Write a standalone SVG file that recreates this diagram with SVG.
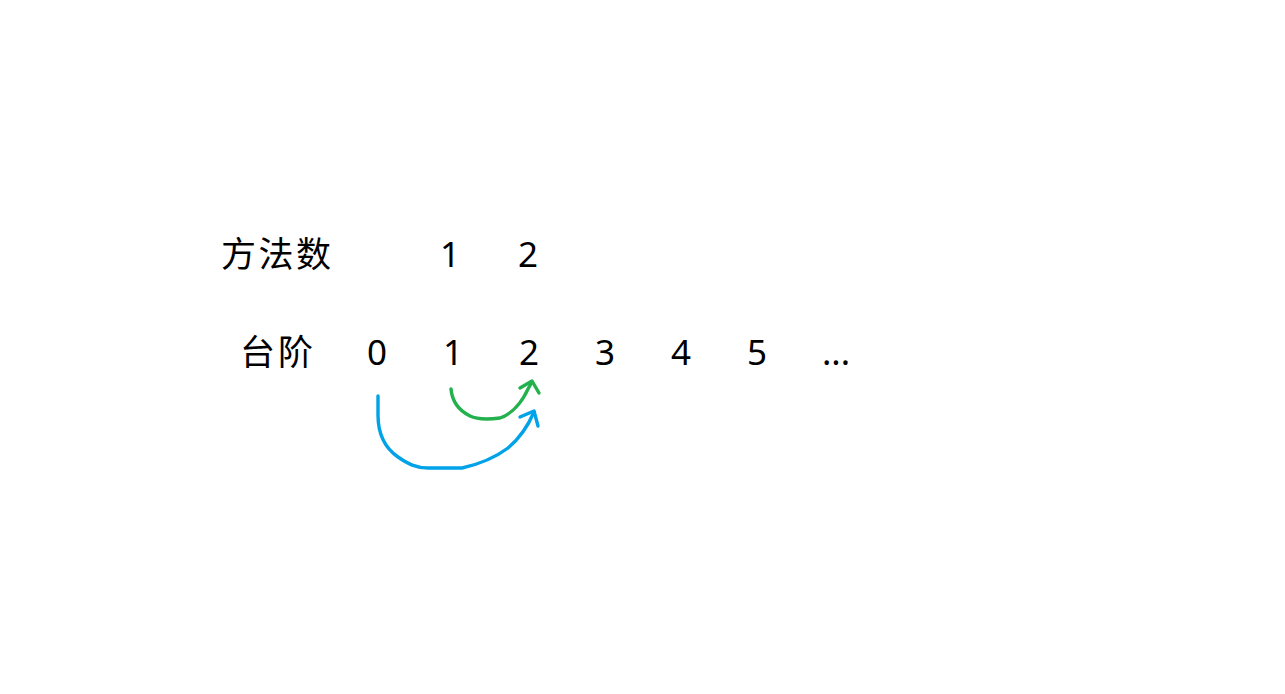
<svg xmlns="http://www.w3.org/2000/svg" width="1285" height="694" viewBox="0 0 1285 694">
<style>
.t{font-family:"Microsoft YaHei","Noto Sans","Noto Sans CJK SC",sans-serif;font-size:35px;fill:#000}
.c{font-family:"Noto Sans CJK SC",sans-serif;font-size:35px;fill:#000}
.n{text-anchor:middle}
.g{fill:none;stroke:#22B14C;stroke-width:3.4;stroke-linecap:round;stroke-linejoin:round}
.b{fill:none;stroke:#00A2E8;stroke-width:3.4;stroke-linecap:round;stroke-linejoin:round}
</style>
<rect width="1285" height="694" fill="#fff"/>
<g id="row-methods">
<text class="c" x="221" y="267" textLength="110">方法数</text>
<text class="t n" x="450" y="267">1</text>
<text class="t n" x="528" y="267">2</text>
</g>
<g id="row-steps">
<text class="c" x="240" y="365" textLength="73">台阶</text>
<text class="t n" x="377" y="365">0</text>
<text class="t n" x="453" y="365">1</text>
<text class="t n" x="529" y="365">2</text>
<text class="t n" x="605" y="365">3</text>
<text class="t n" x="681" y="365">4</text>
<text class="t n" x="757" y="365">5</text>
<text class="t n" x="836" y="365">...</text>
</g>
<g id="connectors">
<path class="g" d="M451,389 C452,400 458,410 470,416 C478,420 492,419 500,418 C512,414 522,402 528,389 L532,382"/>
<path class="g" d="M520,388 L532,381 L539,393"/>
<path class="b" d="M378,396 L378,415 C378,435 385,448 398,457 C408,464 416,468 428,468 L462,468 C480,464 496,457 508,448 C520,438 528,426 534,412"/>
<path class="b" d="M520,417 L534,411 L538,426"/>
</g>
</svg>
